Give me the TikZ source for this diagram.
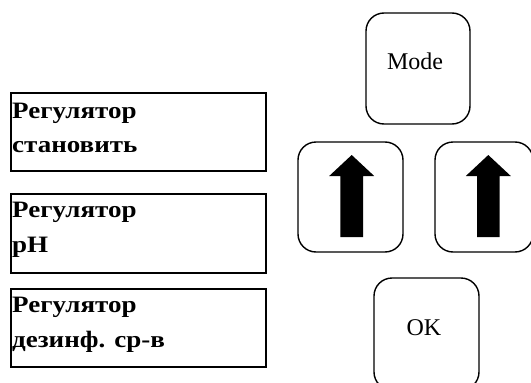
\documentclass[tikz,border=0pt]{standalone}
\usepackage{fontspec}
\setmainfont{Liberation Serif}
\newfontfamily\boxfont[FakeStretch=1.15]{Liberation Serif}
\begin{document}
\begin{tikzpicture}[x=1pt,y=-1pt,
  regbox/.style={draw, line width=1.3pt, inner sep=0pt},
  regtext/.style={anchor=base west, inner sep=0pt, font=\boxfont\bfseries\fontsize{23.5}{27}\selectfont},
  button/.style={draw, line width=1.4pt, rounded corners=18pt, inner sep=0pt},
  btntext/.style={anchor=base, inner sep=0pt, font=\fontsize{24}{28}\selectfont},
  uparrow/.pic={\fill (0,0) -- (22.5,21) -- (11.3,21) -- (11.3,82) -- (-11.3,82) -- (-11.3,21) -- (-22.5,21) -- cycle;}
]
\useasboundingbox (0,0) rectangle (531,383);
\begin{scope}
\clip (0,0) rectangle (531,383);
% left boxes
\node[regbox, minimum width=255pt, minimum height=78pt] (b1) at (138.5,132) {};
\node[regbox, minimum width=255pt, minimum height=79pt] (b2) at (138.5,233.5) {};
\node[regbox, minimum width=255pt, minimum height=78pt] (b3) at (138.5,328) {};
\node[regtext] (t1a) at (12,118) {Регулятор};
\node[regtext] (t1b) at (12,152) {становить};
\node[regtext] (t2a) at (12,217) {Регулятор};
\node[regtext] (t2b) at (12,252) {pH};
\node[regtext] (t3a) at (12,312) {Регулятор};
\node[regtext] (t3b) at (12,347) {дезинф. ср-в};
% buttons
\node[button, minimum width=104pt, minimum height=111pt] (mode) at (418,68.5) {};
\node[btntext] (modet) at (415,69) {Mode};
\node[button, minimum width=105pt, minimum height=110pt] (left) at (350.5,197) {};
\node[button, minimum width=98pt, minimum height=110pt] (right) at (484,197) {};
\node[button, minimum width=105pt, minimum height=112pt] (ok) at (426.5,334) {};
\node[btntext] (okt) at (424,335) {OK};
\pic at (351.7,155) {uparrow};
\pic at (488.3,155) {uparrow};
\end{scope}
\end{tikzpicture}
\end{document}
